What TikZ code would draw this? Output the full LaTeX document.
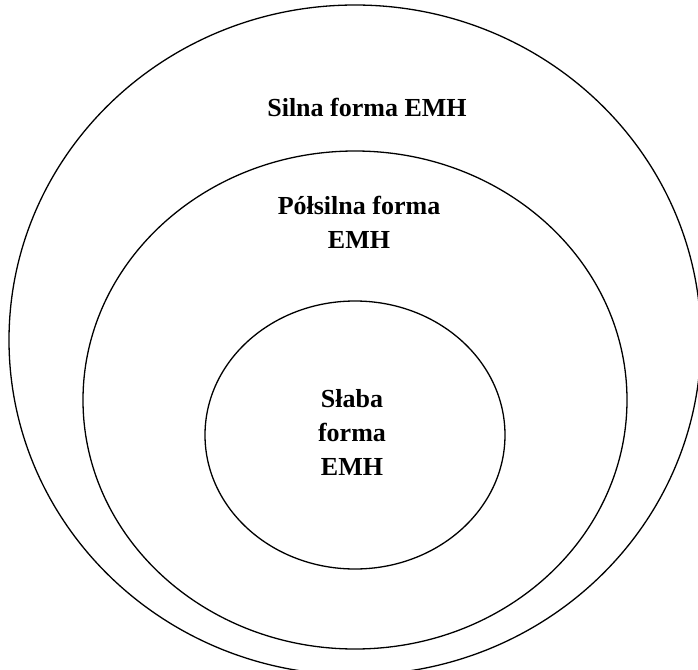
\documentclass[tikz,border=0pt]{standalone}
\usepackage{fontspec}
\setmainfont{Liberation Serif}

\begin{document}
\begin{tikzpicture}[x=0.5pt,y=-0.5pt,
    every node/.style={align=center,inner sep=0pt,font=\fontsize{13}{17}\selectfont\bfseries},
    ring/.style={draw=black,line width=0.65pt}]
    \useasboundingbox(0,0)rectangle(698,670);
	% the three forms, one inside the other
	\draw[ring](355,340)ellipse[x radius=346,y radius=335];
	\draw[ring](355,400)ellipse[x radius=272,y radius=249];
	\draw[ring](355,435)ellipse[x radius=150,y radius=134];
	\node(silna)at(367,107){Silna forma EMH};
	\node(polsilna)at(359,222){Półsilna forma\\EMH};
	\node(slaba)at(352,432){Słaba\\forma\\EMH};
	\end{tikzpicture}
\end{document}
